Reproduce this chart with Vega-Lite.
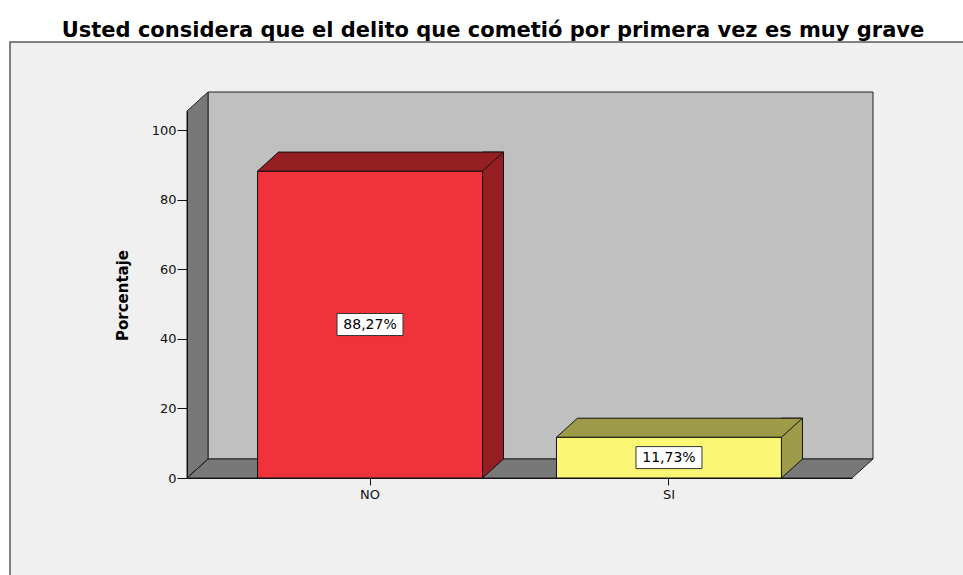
{
  "$schema": "https://vega.github.io/schema/vega-lite/v6.json",
  "width": 686,
  "height": 386,
  "autosize": "none",
  "padding": {"left": 187, "top": 92, "right": 90, "bottom": 97},
  "background": "white",
  "config": {"view": {"stroke": null}, "font": "DejaVu Sans"},
  "title": {
    "text": "Usted considera que el delito que cometió por primera vez es muy grave",
    "font": "DejaVu Sans",
    "fontSize": 21,
    "fontWeight": "bold",
    "color": "#000000",
    "anchor": "middle",
    "frame": "group",
    "dx": -37,
    "offset": -2
  },
  "data": {
    "values": [
      {"categoria": "NO", "porcentaje": 88.27, "etiqueta": "88,27%"},
      {"categoria": "SI", "porcentaje": 11.73, "etiqueta": "11,73%"}
    ]
  },
  "resolve": {"scale": {"y": "independent"}, "axis": {"y": "independent"}},
  "layer": [
    {
      "layer": [
        {
          "data": {"values": [{}]},
          "mark": {"type": "point", "filled": true, "opacity": 1, "size": 4, "fill": "#f0f0f0", "stroke": "#5a5a5a", "strokeWidth": 1.5,
            "shape": "M-520,-243L440,-243L440,305L-520,305Z"},
          "encoding": {}
        },
        {
          "data": {"values": [{}]},
          "mark": {"type": "point", "filled": true, "opacity": 1, "size": 4, "fill": "#c0c0c0", "stroke": "#222222", "strokeWidth": 1,
            "shape": "M-322,-386L343,-386L343,-19L-322,-19Z"},
          "encoding": {
            "y": {"datum": 0, "type": "quantitative", "scale": {"domain": [0, 105.55], "range": [386, 19], "nice": false}}
          }
        },
        {
          "data": {"values": [{}]},
          "mark": {"type": "point", "filled": true, "opacity": 1, "size": 4, "fill": "#787878", "stroke": "#222222", "strokeWidth": 1,
            "shape": "M-343,-367L-322,-386L-322,-19L-343,0ZM-343,0L-322,-19L343,-19L322,0Z"},
          "encoding": {
            "y": {"datum": 0, "type": "quantitative"}
          }
        },
        {
          "mark": {"type": "bar", "width": 21, "xOffset": 123, "yOffset": -19, "y2Offset": -19, "stroke": "#111111", "strokeWidth": 1},
          "encoding": {
            "x": {"field": "categoria", "type": "nominal"},
            "y": {"field": "porcentaje", "type": "quantitative"},
            "fill": {"field": "categoria", "type": "nominal", "scale": {"domain": ["NO", "SI"], "range": ["#951e22", "#9e9b48"]}, "legend": null}
          }
        },
        {
          "mark": {"type": "point", "filled": true, "opacity": 1, "size": 4, "stroke": "#111111", "strokeWidth": 1,
            "shape": "M133.5,-20L133.5,-19L112.5,0L112.5,-20"},
          "encoding": {
            "x": {"field": "categoria", "type": "nominal"},
            "y": {"datum": 0, "type": "quantitative"},
            "fill": {"field": "categoria", "type": "nominal", "scale": {"domain": ["NO", "SI"], "range": ["#951e22", "#9e9b48"]}, "legend": null}
          }
        },
        {
          "mark": {"type": "bar", "stroke": "#111111", "strokeWidth": 1},
          "encoding": {
            "x": {
              "field": "categoria", "type": "nominal", "sort": ["NO", "SI"],
              "scale": {"type": "band", "domain": ["NO", "SI"], "range": [0, 665], "paddingInner": 0.2475, "paddingOuter": 0.236},
              "axis": {"title": null, "labelAngle": 0, "labelAlign": "center", "labelBaseline": "top", "labelFontSize": 13, "labelColor": "#111111", "labelPadding": 3, "tickSize": 7, "tickColor": "#111111", "domainColor": "#111111", "domainWidth": 1, "zindex": 1}
            },
            "y": {
              "field": "porcentaje", "type": "quantitative",
              "axis": {"title": "Porcentaje", "values": [0, 20, 40, 60, 80, 100], "grid": false, "labelFontSize": 13, "labelColor": "#111111", "labelPadding": 1, "tickSize": 10, "tickColor": "#111111", "domainColor": "#111111", "domainWidth": 1, "titleFontSize": 15, "titleFontWeight": "bold", "titleColor": "#000000", "titleX": -65, "titleY": 203, "titleBaseline": "middle", "zindex": 1}
            },
            "color": {"field": "categoria", "type": "nominal", "scale": {"domain": ["NO", "SI"], "range": ["#f0323a", "#fbf774"]}, "legend": null}
          }
        },
        {
          "mark": {"type": "point", "filled": true, "opacity": 1, "size": 4, "stroke": "#111111", "strokeWidth": 1,
            "shape": "M-112.5,0L112.5,0L133.5,-19L-91.5,-19Z"},
          "encoding": {
            "x": {"field": "categoria", "type": "nominal"},
            "y": {"field": "porcentaje", "type": "quantitative"},
            "fill": {"field": "categoria", "type": "nominal", "scale": {"domain": ["NO", "SI"], "range": ["#951e22", "#9e9b48"]}, "legend": null}
          }
        }
      ]
    },
    {
      "layer": [
        {
          "mark": {"type": "point", "filled": true, "opacity": 1, "size": 4, "fill": "#ffffff", "stroke": "#333333", "strokeWidth": 1,
            "shape": "M-33,-11L33,-11L33,11L-33,11Z"},
          "encoding": {
            "x": {"field": "categoria", "type": "nominal"},
            "y": {"field": "porcentaje", "type": "quantitative", "scale": {"domain": [0, 211.1], "range": [386, 19], "nice": false}, "axis": null}
          }
        },
        {
          "mark": {"type": "text", "fontSize": 14, "color": "#000000", "align": "center", "baseline": "middle"},
          "encoding": {
            "x": {"field": "categoria", "type": "nominal"},
            "y": {"field": "porcentaje", "type": "quantitative", "axis": null},
            "text": {"field": "etiqueta", "type": "nominal"}
          }
        }
      ]
    }
  ]
}
